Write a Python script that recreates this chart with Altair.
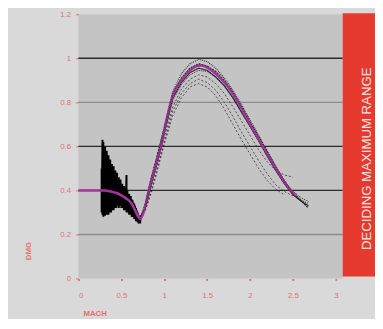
import altair as alt
import pandas as pd

# ---- data ----
mag_x = [0.0, 0.30, 0.38, 0.45, 0.49, 0.55, 0.61, 0.66, 0.69, 0.72, 0.75, 0.78, 0.82, 0.89, 0.96, 1.0, 1.05, 1.1, 1.2, 1.3, 1.38, 1.43, 1.5, 1.6, 1.7, 1.78, 1.86, 2.0, 2.15, 2.3, 2.45, 2.53]
mag_y = [0.40, 0.40, 0.395, 0.387, 0.38, 0.365, 0.345, 0.31, 0.285, 0.27, 0.29, 0.33, 0.40, 0.50, 0.60, 0.67, 0.76, 0.83, 0.90, 0.945, 0.965, 0.967, 0.958, 0.93, 0.89, 0.85, 0.80, 0.70, 0.60, 0.50, 0.41, 0.38]

bx = [0.72, 0.78, 0.85, 0.92, 1.0, 1.1, 1.2, 1.3, 1.4, 1.5, 1.6, 1.7, 1.8, 1.9, 2.0, 2.1, 2.2, 2.3, 2.4, 2.5, 2.6, 2.68]
curve_a = [0.26, 0.33, 0.45, 0.56, 0.69, 0.85, 0.93, 0.975, 0.995, 0.985, 0.955, 0.91, 0.855, 0.79, 0.72, 0.65, 0.58, 0.51, 0.445, 0.39, 0.355, 0.34]
curve_b = [0.27, 0.34, 0.46, 0.56, 0.68, 0.84, 0.91, 0.955, 0.975, 0.965, 0.94, 0.90, 0.845, 0.78, 0.71, 0.645, 0.575, 0.505, 0.44, 0.385, 0.35, 0.32]
curve_f = [0.28, 0.32, 0.43, 0.53, 0.66, 0.82, 0.89, 0.935, 0.955, 0.945, 0.915, 0.875, 0.82, 0.755, 0.69, 0.625, 0.555, 0.49, 0.43, 0.38, 0.35, 0.33]
curve_g = [0.27, 0.33, 0.44, 0.54, 0.66, 0.81, 0.88, 0.925, 0.945, 0.94, 0.915, 0.875, 0.825, 0.765, 0.70, 0.635, 0.57, 0.505, 0.445, 0.395, 0.365, 0.35]
curve_c = [0.28, 0.32, 0.42, 0.52, 0.64, 0.78, 0.86, 0.905, 0.925, 0.915, 0.885, 0.84, 0.78, 0.715, 0.65, 0.585, 0.53, 0.49, 0.47, 0.46, None, None]
curve_d = [0.28, 0.31, 0.40, 0.50, 0.62, 0.76, 0.84, 0.885, 0.905, 0.89, 0.855, 0.80, 0.735, 0.665, 0.60, 0.535, 0.475, 0.425, 0.395, 0.375, None, None]
curve_e = [0.28, 0.31, 0.39, 0.49, 0.61, 0.74, 0.82, 0.87, 0.885, 0.87, 0.83, 0.77, 0.70, 0.63, 0.565, 0.50, 0.445, 0.405, 0.38, None, None, None]
black_curves = {"a": curve_a, "b": curve_b, "f": curve_f, "g": curve_g, "c": curve_c, "d": curve_d, "e": curve_e}
dashes = {"a": [1, 1], "b": [2, 1], "f": [1, 0], "g": [1, 1], "c": [2, 2], "d": [2, 2], "e": [2, 2]}
widths = {"a": 1.1, "b": 1.2, "f": 1.1, "g": 1.0, "c": 0.8, "d": 0.8, "e": 0.8}

noise_x = [0.27, 0.28, 0.29, 0.30, 0.31, 0.32, 0.33, 0.34, 0.35, 0.36, 0.37, 0.38, 0.39, 0.40, 0.41, 0.42,
           0.43, 0.44, 0.45, 0.46, 0.47, 0.48, 0.49, 0.50, 0.51, 0.52, 0.53, 0.54, 0.55, 0.56, 0.57, 0.58,
           0.59, 0.60, 0.61, 0.62, 0.63, 0.64, 0.65, 0.66, 0.67, 0.68, 0.69, 0.70, 0.71, 0.72]
noise_hi = [0.50, 0.63, 0.62, 0.58, 0.60, 0.56, 0.58, 0.54, 0.56, 0.52, 0.54, 0.50, 0.52, 0.49, 0.51, 0.48,
            0.49, 0.46, 0.48, 0.45, 0.46, 0.44, 0.45, 0.42, 0.43, 0.41, 0.42, 0.40, 0.41, 0.47, 0.40, 0.38,
            0.385, 0.37, 0.375, 0.36, 0.355, 0.345, 0.34, 0.33, 0.32, 0.31, 0.30, 0.29, 0.28, 0.275]
noise_lo = [0.30, 0.29, 0.28, 0.29, 0.285, 0.29, 0.29, 0.30, 0.29, 0.30, 0.31, 0.30, 0.31, 0.32, 0.31, 0.32,
            0.33, 0.32, 0.33, 0.33, 0.32, 0.33, 0.33, 0.32, 0.32, 0.32, 0.31, 0.31, 0.31, 0.30, 0.30, 0.30,
            0.29, 0.29, 0.29, 0.28, 0.28, 0.28, 0.27, 0.27, 0.26, 0.26, 0.255, 0.25, 0.25, 0.25]

grid_vals = [1.0, 0.8, 0.6, 0.4, 0.2]
grid_cols = ["#2b2b2b", "#8c8c8c", "#2b2b2b", "#2b2b2b", "#8c8c8c"]
x_ticks = [0, 0.5, 1, 1.5, 2, 2.5, 3]
y_ticks = [0, 0.2, 0.4, 0.6, 0.8, 1.0, 1.2]
box_text = "DECIDING MAXIMUM RANGE"
y_title = "DMG"
x_title = "MACH"

# ---- tables ----
mag_df = pd.DataFrame({"x": mag_x, "y": mag_y})
rows = []
for k, ys in black_curves.items():
    for i, (xv, yv) in enumerate(zip(bx, ys)):
        if yv is not None:
            rows.append({"x": xv, "y": yv, "c": k, "o": i})
black_df = pd.DataFrame(rows)
nrows = []
for i, (xv, h, l) in enumerate(zip(noise_x, noise_hi, noise_lo)):
    nrows.append({"x": xv, "y": h, "o": 2 * i})
    nrows.append({"x": xv, "y": l, "o": 2 * i + 1})
noise_df = pd.DataFrame(nrows)
grid_df = pd.DataFrame({"y": grid_vals, "col": grid_cols})
one = pd.DataFrame({"t": [box_text]})

xs = alt.Scale(domain=[0, 3.08], nice=False)
ys_ = alt.Scale(domain=[0, 1.2], nice=False)
pink = "#e5706a"
lab = "datum.value == 0 ? '0' : toString(datum.value)"

grid = alt.Chart(grid_df).mark_rule(strokeWidth=1.4).encode(
    y=alt.Y("y:Q", scale=ys_, axis=alt.Axis(values=y_ticks, title=None, labelExpr=lab)),
    color=alt.Color("col:N", scale=None),
)

base_layers = []
for k in black_curves:
    base_layers.append(
        alt.Chart(black_df[black_df.c == k]).mark_line(
            color="#111111", strokeWidth=widths[k], opacity=0.85, strokeDash=dashes[k]
        ).encode(x=alt.X("x:Q", scale=xs), y=alt.Y("y:Q", scale=ys_), order="o:Q")
    )

noise = alt.Chart(noise_df).mark_line(color="#000000", strokeWidth=2.0).encode(
    x=alt.X("x:Q", scale=xs), y=alt.Y("y:Q", scale=ys_), order="o:Q"
)

mag = alt.Chart(mag_df).mark_line(color="#a3359c", strokeWidth=2.6, interpolate="monotone").encode(
    x=alt.X("x:Q", scale=xs, axis=alt.Axis(values=x_ticks, title=None, labelExpr=lab)),
    y=alt.Y("y:Q", scale=ys_),
)

black_top = alt.Chart(black_df[black_df.c.isin(["b", "f"])]).mark_line(
    color="#222222", strokeWidth=0.8, strokeDash=[1, 2]
).encode(x=alt.X("x:Q", scale=xs), y=alt.Y("y:Q", scale=ys_), detail="c:N", order="o:Q")

box = alt.Chart(one).mark_rect(color="#e63a2e").encode(
    x=alt.value(270), x2=alt.value(320), y=alt.value(-1), y2=alt.value(268)
)
box_label = alt.Chart(one).mark_text(
    text=box_text, angle=270, align="left", baseline="middle", fontSize=13.5,
    font="Liberation Sans", color="#fbe3e0"
).encode(x=alt.value(295), y=alt.value(241))

ytitle = alt.Chart(one).mark_text(
    text=y_title, angle=270, align="center", baseline="middle", fontSize=8,
    font="Liberation Sans", color=pink, fontWeight="bold"
).encode(x=alt.value(-50), y=alt.value(242))
xtitle = alt.Chart(one).mark_text(
    text=x_title, align="center", baseline="middle", fontSize=8,
    font="Liberation Sans", color=pink, fontWeight="bold"
).encode(x=alt.value(17), y=alt.value(306))

chart = alt.layer(grid, *base_layers, noise, mag, black_top, box, box_label, ytitle, xtitle).properties(
    width=270, height=270, autosize=alt.AutoSizeParams(type="none"),
    padding={"left": 72, "top": 3, "right": 33, "bottom": 38},
    background="#d9d9d9",
).configure_view(fill="#c4c4c4", stroke=None, clip=False).configure_axis(
    domain=False, grid=False, labelColor=pink, tickColor=pink, labelFontSize=8,
    labelFont="Liberation Sans", tickSize=3,
).configure_axisX(labelPadding=11, tickWidth=2, tickSize=2).configure_axisY(labelPadding=5)

chart.save("out.html", embed_options={"renderer": "svg", "actions": False})
